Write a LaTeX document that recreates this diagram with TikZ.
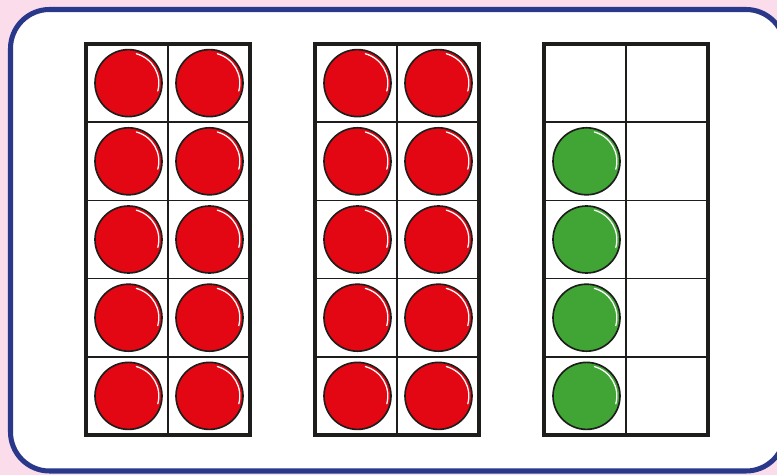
\documentclass[tikz,border=0pt]{standalone}
\usetikzlibrary{positioning}

\definecolor{achtergrond}{HTML}{FADCEA}
\definecolor{kaderblauw}{HTML}{29388A}
\definecolor{fiche rood}{HTML}{E30613}
\definecolor{fiche groen}{HTML}{40A535}
\definecolor{lijnzwart}{HTML}{1D1D1B}

\tikzstyle{kader} = [draw=kaderblauw, fill=white, line width=4.3pt, rounded corners=11.7mm]
\tikzstyle{kaart} = [draw=lijnzwart, line width=3.4pt, minimum width=49.2mm, minimum height=117.3mm, outer sep=0pt, inner sep=0pt]
\tikzstyle{rooster} = [draw=lijnzwart, line width=1.5pt]
\tikzstyle{fiche} = [circle, draw=lijnzwart, line width=1.4pt, minimum size=20.1mm, inner sep=0pt]
\tikzstyle{rood} = [fiche, fill=fiche rood]
\tikzstyle{groen} = [fiche, fill=fiche groen]
\tikzstyle{glans} = [draw=white, line width=1.1pt, line cap=round]

\begin{document}
\begin{tikzpicture}[x=0.3mm, y=-0.3mm]
%achtergrond
\fill[achtergrond] (0,0) rectangle (777,475);
\useasboundingbox (0,0) rectangle (777,475);
\draw[kader] (10.5,9.5) rectangle (785,471);
%begin kaarten
\node[kaart] (kaart1) at (168,239.5) {};
\node[kaart, right=19.5mm of kaart1] (kaart2) {};
\node[kaart, right=19.5mm of kaart2] (kaart3) {};
%end kaarten
%begin rooster
\foreach \k/\x in {1/86, 2/315, 3/544}{
    \draw[rooster] (kaart\k.north) -- (kaart\k.south);
    \foreach \y in {122.2, 200.4, 278.6, 356.8}
        \draw[rooster] (kaart\k.west |- 0,\y) -- (kaart\k.east |- 0,\y);
    \node[kaart] at (kaart\k) {};
}
%end rooster
%begin fiches rood
\foreach \k/\x in {1/86, 2/315}{
    \foreach \r in {1,...,5}{
        \node[rood] (f\k-\r-a) at (\x+42.5, 44+78.2*\r-39.1) {};
        \node[rood] (f\k-\r-b) at (\x+123.5, 44+78.2*\r-39.1) {};
        \draw[glans] (f\k-\r-a.center) ++(-15:9.1mm) arc (-15:75:9.1mm);
        \draw[glans] (f\k-\r-b.center) ++(-15:9.1mm) arc (-15:75:9.1mm);
    }
}
%end fiches rood
%begin fiches groen
\foreach \r in {2,...,5}{
    \node[groen] (f3-\r-a) at (544+42.5, 44+78.2*\r-39.1) {};
    \draw[glans] (f3-\r-a.center) ++(-15:9.1mm) arc (-15:75:9.1mm);
}
%end fiches groen
\end{tikzpicture}
\end{document}
